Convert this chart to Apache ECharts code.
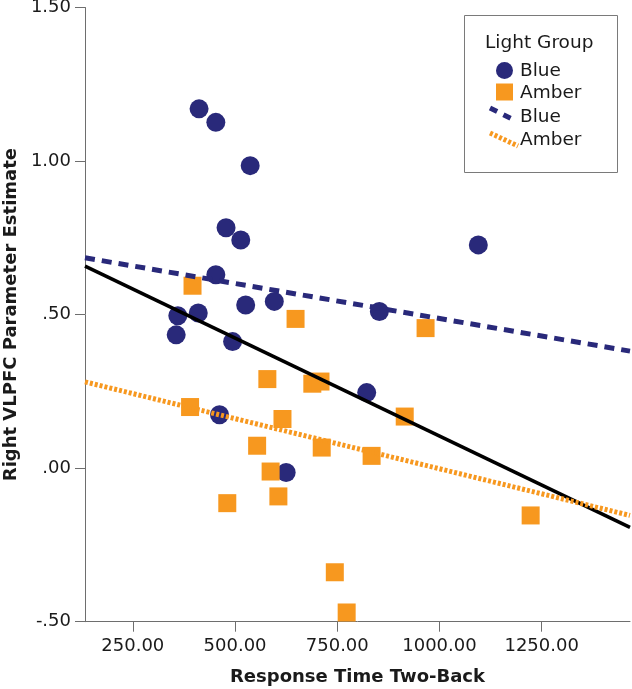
<!DOCTYPE html>
<html>
<head>
<meta charset="utf-8">
<script src="https://cdn.jsdelivr.net/npm/echarts@6/dist/echarts.min.js"></script>
<style>
html,body{margin:0;padding:0;background:#fff;}
#chart{width:632px;height:689px;}
</style>
</head>
<body>
<div id="chart"></div>
<script>
// ---- data ----
const blueX = [412, 453, 537, 478, 514, 453, 360, 410, 356, 526, 596, 494, 462, 625, 822, 1095, 853];
const blueY = [1.170, 1.126, 0.985, 0.783, 0.743, 0.630, 0.496, 0.505, 0.434, 0.531, 0.543, 0.412, 0.174, -0.014, 0.246, 0.727, 0.510];
const amberX = [396, 648, 579, 689, 709, 390, 616, 554, 712, 587, 606, 481, 744, 773, 915, 834, 966, 1223];
const amberY = [0.594, 0.486, 0.290, 0.275, 0.282, 0.199, 0.160, 0.073, 0.067, -0.011, -0.092, -0.114, -0.339, -0.470, 0.168, 0.040, 0.456, -0.154];
const fitX = [133, 1466];
const blueFitY = [0.685, 0.381];
const amberFitY = [0.281, -0.154];
const totalFitY = [0.658, -0.193];
const xTicks = [250, 500, 750, 1000, 1250];
const yTicks = [-0.5, 0, 0.5, 1.0, 1.5];

const BLUE = '#29297a';
const AMBER = '#f7981f';
const FONT = 'DejaVu Sans';

const zip = (xs, ys) => xs.map((x, i) => [x, ys[i]]);
const fmtY = v => { let s = Math.abs(v).toFixed(2).replace(/^0/, ''); return (v < 0 ? '-' : '') + s; };

const chart = echarts.init(document.getElementById('chart'), null, {renderer: 'canvas'});
chart.setOption({
  animation: false,
  backgroundColor: '#ffffff',
  grid: {left: 85, right: 2, top: 7.5, bottom: 67.3, containLabel: false, outerBoundsMode: 'none'},
  xAxis: {
    type: 'value', min: 133, max: 1466,
    name: 'Response Time Two-Back', nameLocation: 'middle', nameGap: 47,
    nameTextStyle: {fontFamily: FONT, fontSize: 18, fontWeight: 'bold', color: '#1a1a1a'},
    axisLine: {show: true, onZero: false, lineStyle: {color: '#6e6e6e', width: 1}},
    axisTick: {show: true, length: 10, customValues: xTicks, lineStyle: {color: '#6e6e6e'}},
    axisLabel: {customValues: xTicks, margin: 16, fontFamily: FONT, fontSize: 18, color: '#1a1a1a', lineHeight: 18,
      formatter: v => Number(v).toFixed(2)},
    splitLine: {show: false}
  },
  yAxis: {
    type: 'value', min: -0.5, max: 1.5, interval: 0.5,
    name: 'Right VLPFC Parameter Estimate', nameLocation: 'middle', nameGap: 64,
    nameTextStyle: {fontFamily: FONT, fontSize: 18, fontWeight: 'bold', color: '#1a1a1a'},
    axisLine: {show: true, onZero: false, lineStyle: {color: '#6e6e6e', width: 1}},
    axisTick: {show: true, length: 10, customValues: yTicks, lineStyle: {color: '#6e6e6e'}},
    axisLabel: {customValues: yTicks, margin: 14, fontFamily: FONT, fontSize: 18, color: '#1a1a1a', formatter: v => fmtY(v)},
    splitLine: {show: false}
  },
  series: [
    {type: 'scatter', name: 'Blue', data: zip(blueX, blueY), symbol: 'circle', symbolSize: 19,
     itemStyle: {color: BLUE, opacity: 1}, z: 2},
    {type: 'scatter', name: 'Amber', data: zip(amberX, amberY), symbol: 'rect', symbolSize: 18,
     itemStyle: {color: AMBER, opacity: 1}, z: 3},
    {type: 'line', name: 'Total fit', data: zip(fitX, totalFitY), showSymbol: false, symbol: 'none',
     lineStyle: {color: '#000000', width: 3.5, type: 'solid'}, z: 4},
    {type: 'line', name: 'Blue fit', data: zip(fitX, blueFitY), showSymbol: false, symbol: 'none',
     lineStyle: {color: BLUE, width: 5, type: [10, 7], cap: 'butt'}, z: 5},
    {type: 'line', name: 'Amber fit', data: zip(fitX, amberFitY), showSymbol: false, symbol: 'none',
     lineStyle: {color: AMBER, width: 5, type: [3, 2], cap: 'butt'}, z: 5}
  ],
  graphic: [
    {type: 'rect', shape: {x: 464.5, y: 15.5, width: 153, height: 157}, style: {fill: '#fff', stroke: '#7a7a7a', lineWidth: 1}, z: 10},
    {type: 'text', x: 485, y: 43.5, style: {text: 'Light Group', font: '18.5px "DejaVu Sans"', fill: '#1a1a1a', verticalAlign: 'middle'}, z: 11},
    {type: 'circle', shape: {cx: 504.5, cy: 70.5, r: 8.5}, style: {fill: BLUE}, z: 11},
    {type: 'text', x: 520, y: 71, style: {text: 'Blue', font: '18.5px "DejaVu Sans"', fill: '#1a1a1a', verticalAlign: 'middle'}, z: 11},
    {type: 'rect', shape: {x: 496, y: 83.5, width: 17, height: 17}, style: {fill: AMBER}, z: 11},
    {type: 'text', x: 520, y: 93, style: {text: 'Amber', font: '18.5px "DejaVu Sans"', fill: '#1a1a1a', verticalAlign: 'middle'}, z: 11},
    {type: 'line', shape: {x1: 490, y1: 108, x2: 514, y2: 120}, style: {stroke: BLUE, lineWidth: 5, lineDash: [8, 7]}, z: 11},
    {type: 'text', x: 520, y: 117, style: {text: 'Blue', font: '18.5px "DejaVu Sans"', fill: '#1a1a1a', verticalAlign: 'middle'}, z: 11},
    {type: 'line', shape: {x1: 490, y1: 133, x2: 518, y2: 146}, style: {stroke: AMBER, lineWidth: 5, lineDash: [3, 2]}, z: 11},
    {type: 'text', x: 520, y: 140, style: {text: 'Amber', font: '18.5px "DejaVu Sans"', fill: '#1a1a1a', verticalAlign: 'middle'}, z: 11}
  ]
});
</script>
</body>
</html>
